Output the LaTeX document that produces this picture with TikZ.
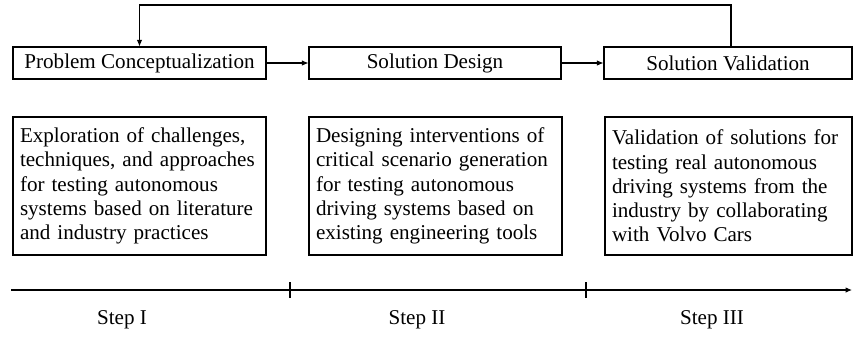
\documentclass[tikz,border=0pt]{standalone}
\usepackage{fontspec}
\setmainfont{Liberation Serif}
\usetikzlibrary{arrows.meta,positioning}

\begin{document}
\begin{tikzpicture}[
  phase/.style={draw, line width=0.6pt, minimum height=0.64cm, inner sep=0pt, font=\fontsize{12}{13.8}\selectfont},
  detail/.style={draw, line width=0.6pt, minimum height=2.76cm, inner sep=0.14cm, align=left, font=\fontsize{12}{13.8}\selectfont},
  flow/.style={line width=0.6pt, -{Latex[length=1.3mm,width=1.1mm]}},
  steplabel/.style={font=\fontsize{12}{13.8}\selectfont}]
\useasboundingbox (0,0) rectangle (17.06,-6.72);
\node[phase, minimum width=5.06cm] (pc) at (2.79,-1.26) {Problem Conceptualization};
\node[phase, minimum width=5.04cm] (sd) at (8.70,-1.26) {Solution Design};
\node[phase, minimum width=4.96cm] (sv) at (14.56,-1.26) {Solution Validation};
\draw[flow] (pc)--(sd);
\draw[flow] (sd)--(sv);
\coordinate (fb) at (14.62,-0.1);
\draw[flow] (fb|-sv.north)--(fb)-|(pc.north);
\node[detail, text width=4.78cm] (pcd) at (2.79,-3.72) {Exploration of challenges,\\techniques, and approaches\\for testing autonomous\\systems based on literature\\and industry practices};
\node[detail, text width=4.78cm] (sdd) at (8.71,-3.72) {Designing interventions of\\critical scenario generation\\for testing autonomous\\driving systems based on\\existing engineering tools};
\node[detail, text width=4.66cm] (svd) at (14.57,-3.72) {Validation of solutions for\\testing real autonomous\\driving systems from the\\industry by collaborating\\with Volvo Cars};
\coordinate (t0) at (0.22,-5.8);
\coordinate (t3) at (17.04,-5.8);
\draw[flow] (t0)--(t3);
\foreach \x in {5.8,11.72}
  \draw[line width=0.6pt] (\x,-5.64)--(\x,-5.96);
\node[steplabel] (s1) at (2.44,-6.4) {Step I};
\node[steplabel] (s2) at (8.34,-6.4) {Step II};
\node[steplabel] (s3) at (14.24,-6.4) {Step III};
\end{tikzpicture}
\end{document}
